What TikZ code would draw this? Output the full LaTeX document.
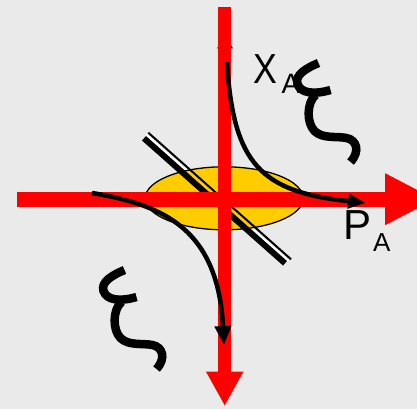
\documentclass[tikz,border=0pt]{standalone}
\usepackage{fontspec}
\setmainfont{Liberation Sans}
\usetikzlibrary{arrows.meta,shapes.geometric}
\definecolor{bggray}{RGB}{234,234,234}
\definecolor{lensyellow}{RGB}{255,204,0}
\definecolor{beamred}{RGB}{255,0,0}
\tikzset{
  beam/.style={draw=beamred, line cap=butt},
  ray/.style={draw=black, line width=4.5pt, line cap=butt},
  squigstroke/.style={draw=black, line width=8.5pt, line cap=butt},
  biglabel/.style={inner sep=0pt, anchor=base west, font=\fontsize{42}{42}\selectfont},
  sublabel/.style={inner sep=0pt, anchor=base west},
  xi/.pic={
    \draw[squigstroke] (0,0) .. controls (-12,5) and (-24,12) .. (-21,21)
      .. controls (-18,30) and (-5,32) .. (12,27);
    \draw[squigstroke] (-3,32) .. controls (-12,40) and (-12,60) .. (-4,68)
      .. controls (4,76) and (18,73) .. (28,75)
      .. controls (38,77) and (42,88) .. (32,99);
  }
}
\begin{document}
\begin{tikzpicture}[x=1pt,y=-1pt]
\useasboundingbox (0,0) rectangle (417,409);
\fill[bggray] (0,0) rectangle (417,409);
% white gap of the mirror (visible outside the lens)
\draw[white, line width=3pt] (146.3,135.5) -- (288,261.3);
% lens
\node[draw=black, line width=1.3pt, fill=lensyellow, ellipse, minimum width=158pt, minimum height=63pt, inner sep=0pt] (lens) at (224.2,198.3) {};
% mirror lines
\coordinate (mthickA) at (144,138.3);
\coordinate (mthickB) at (285,263.3);
\coordinate (mthinA) at (148.3,132.7);
\coordinate (mthinB) at (291,259.3);
\draw[black, line width=6pt] (mthickA) -- (mthickB);
\draw[black, line width=2pt] (mthinA) -- (mthinB);
% small hidden arrow tip at top
\coordinate (tipL) at (217,48.5);
\coordinate (tipR) at (233,48.5);
\coordinate (tipT) at (225,35);
\fill[black] (tipL) -- (tipT) -- (tipR) -- cycle;
% red beams
\coordinate (vtop) at (224.7,7);
\coordinate (vbot) at (224.7,406);
\coordinate (hleft) at (17,199.2);
\coordinate (hright) at (436,199.2);
\draw[beam, line width=12.7pt, -{Triangle[length=34.3pt, width=34.6pt]}] (vtop) -- (vbot);
\draw[beam, line width=15pt, -{Triangle[length=51pt, width=48pt]}] (hleft) -- (hright);
% black rays
\coordinate (xs) at (227,62);
\coordinate (xe) at (366,203);
\draw[ray, -{Triangle[length=18pt, width=14pt]}] (xs) .. controls (233,165) and (262,192) .. (xe);
\coordinate (ps) at (92,193);
\coordinate (pe) at (224,345);
\draw[ray, -{Triangle[length=19pt, width=16pt]}] (ps) .. controls (165,205) and (218,230) .. (pe);
% labels
\node[biglabel, xscale=0.85] (xlab) at (253.6,83.3) {X};
\node[sublabel, font=\fontsize{28}{28}\selectfont] (xsub) at (281.5,93.3) {A};
\node[biglabel] (plab) at (343.4,239.3) {P};
\node[sublabel, font=\fontsize{26}{26}\selectfont] (psub) at (373,251.7) {A};
% squiggles
\pic at (318.5,63) {xi};
\pic at (124.5,270) {xi};
\end{tikzpicture}
\end{document}
